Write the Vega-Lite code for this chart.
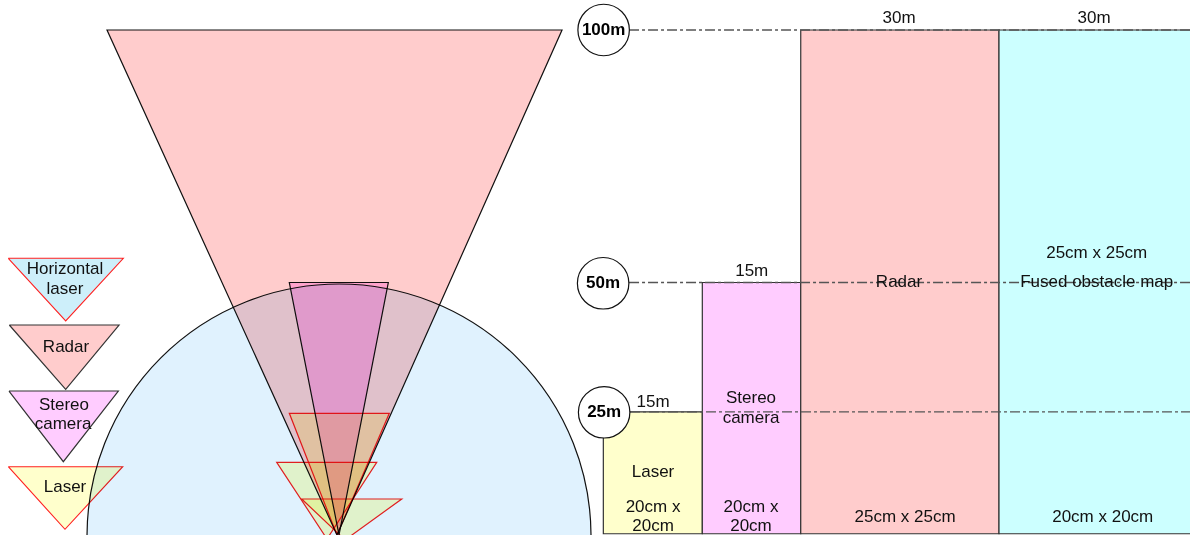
{
  "$schema": "https://vega.github.io/schema/vega-lite/v6.json",
  "width": 1190,
  "height": 535,
  "autosize": {"type": "none"},
  "padding": 0,
  "background": "white",
  "config": {"view": {"stroke": null}},
  "datasets": {
    "hlaser": [{"sensor": "Horizontal laser", "x": 0, "y": -0.2, "range": 49.9, "from": -90, "to": 90}],
    "radarfov": [
      {"i": 0, "x": -0.4, "y": 0}, {"i": 1, "x": -45.94, "y": 100}, {"i": 2, "x": 44.16, "y": 100}, {"i": 3, "x": -0.4, "y": 0}
    ],
    "stereofov": [
      {"i": 0, "x": 0, "y": 0}, {"i": 1, "x": -9.84, "y": 50}, {"i": 2, "x": 9.76, "y": 50}, {"i": 3, "x": 0, "y": 0}
    ],
    "laserfov": [
      {"beam": "A", "i": 0, "x": -0.4, "y": 0}, {"beam": "A", "i": 1, "x": -9.84, "y": 24.1}, {"beam": "A", "i": 2, "x": 9.96, "y": 24.1}, {"beam": "A", "i": 3, "x": -0.4, "y": 0},
      {"beam": "B", "i": 0, "x": -2.38, "y": -0.79}, {"beam": "B", "i": 1, "x": -12.34, "y": 14.4}, {"beam": "B", "i": 2, "x": 7.47, "y": 14.4}, {"beam": "B", "i": 3, "x": -2.38, "y": -0.79},
      {"beam": "C", "i": 0, "x": 1.19, "y": -0.99}, {"beam": "C", "i": 1, "x": -7.39, "y": 7.13}, {"beam": "C", "i": 2, "x": 12.42, "y": 7.13}, {"beam": "C", "i": 3, "x": 1.19, "y": -0.99}
    ],
    "legendtri": [
      {"sensor": "Horizontal laser", "i": 0, "x": -65.49, "y": 54.79}, {"sensor": "Horizontal laser", "i": 1, "x": -42.71, "y": 54.79}, {"sensor": "Horizontal laser", "i": 2, "x": -54.12, "y": 42.38}, {"sensor": "Horizontal laser", "i": 3, "x": -65.49, "y": 54.79},
      {"sensor": "Radar", "i": 0, "x": -65.29, "y": 41.58}, {"sensor": "Radar", "i": 1, "x": -43.56, "y": 41.58}, {"sensor": "Radar", "i": 2, "x": -54.12, "y": 28.85}, {"sensor": "Radar", "i": 3, "x": -65.29, "y": 41.58},
      {"sensor": "Stereo camera", "i": 0, "x": -65.35, "y": 28.51}, {"sensor": "Stereo camera", "i": 1, "x": -43.7, "y": 28.51}, {"sensor": "Stereo camera", "i": 2, "x": -54.59, "y": 14.51}, {"sensor": "Stereo camera", "i": 3, "x": -65.35, "y": 28.51},
      {"sensor": "Laser", "i": 0, "x": -65.49, "y": 13.52}, {"sensor": "Laser", "i": 1, "x": -42.83, "y": 13.52}, {"sensor": "Laser", "i": 2, "x": -54.26, "y": 1.13}, {"sensor": "Laser", "i": 3, "x": -65.49, "y": 13.52}
    ],
    "bars": [
      {"sensor": "Laser", "x": 52.34, "x2": 71.94, "y": 0.25, "y2": 24.4},
      {"sensor": "Stereo camera", "x": 71.94, "x2": 91.43, "y": 0.25, "y2": 50},
      {"sensor": "Radar", "x": 91.43, "x2": 130.69, "y": 0.25, "y2": 100},
      {"sensor": "Fused obstacle map", "x": 130.69, "x2": 170.5, "y": 0.25, "y2": 100}
    ],
    "rules": [
      {"x": 57.43, "x2": 170.5, "y": 100},
      {"x": 57.43, "x2": 170.5, "y": 50},
      {"x": 57.62, "x2": 170.5, "y": 24.4}
    ],
    "rings": [
      {"label": "100m", "x": 52.4, "y": 100},
      {"label": "50m", "x": 52.3, "y": 49.85},
      {"label": "25m", "x": 52.5, "y": 24.3}
    ],
    "labels": [
      {"text": "Horizontal", "x": -54.26, "y": 52.67},
      {"text": "laser", "x": -54.26, "y": 48.65},
      {"text": "Radar", "x": -54.06, "y": 37.29},
      {"text": "Stereo", "x": -54.46, "y": 25.74},
      {"text": "camera", "x": -54.65, "y": 21.98},
      {"text": "Laser", "x": -54.26, "y": 9.45},
      {"text": "15m", "x": 62.18, "y": 26.4},
      {"text": "15m", "x": 81.72, "y": 52.34},
      {"text": "30m", "x": 110.89, "y": 102.38},
      {"text": "30m", "x": 149.5, "y": 102.38},
      {"text": "Laser", "x": 62.18, "y": 12.48},
      {"text": "20cm x", "x": 62.18, "y": 5.6},
      {"text": "20cm", "x": 62.18, "y": 1.78},
      {"text": "Stereo", "x": 81.58, "y": 27.19},
      {"text": "camera", "x": 81.58, "y": 23.11},
      {"text": "20cm x", "x": 81.58, "y": 5.54},
      {"text": "20cm", "x": 81.58, "y": 1.78},
      {"text": "Radar", "x": 110.89, "y": 50.1},
      {"text": "25cm x 25cm", "x": 112.08, "y": 3.5},
      {"text": "25cm x 25cm", "x": 150.04, "y": 55.9},
      {"text": "Fused obstacle map", "x": 150.04, "y": 50.1},
      {"text": "20cm x 20cm", "x": 151.23, "y": 3.56}
    ]
  },
  "encoding": {
    "x": {"field": "x", "type": "quantitative", "scale": {"domain": [-67.13, 168.51], "nice": false, "zero": false}, "axis": null},
    "y": {"field": "y", "type": "quantitative", "scale": {"domain": [0, 105.94], "nice": false, "zero": false}, "axis": null}
  },
  "layer": [
    {
      "data": {"name": "hlaser"},
      "mark": {"type": "arc", "fill": "#e0f2fe", "stroke": "#111111", "strokeWidth": 1.2},
      "encoding": {
        "radius": {"field": "range", "type": "quantitative", "scale": {"type": "linear", "domain": [0, 100], "range": [0, 505], "zero": true}},
        "theta": {"field": "from", "type": "quantitative", "scale": {"domain": [-180, 180], "range": [-3.14159265, 3.14159265]}},
        "theta2": {"field": "to"}
      }
    },
    {
      "data": {"name": "radarfov"},
      "mark": {"type": "line", "fill": "#ffcccc", "stroke": "#111111", "strokeWidth": 1.2, "blend": "multiply"},
      "encoding": {"order": {"field": "i", "type": "quantitative"}}
    },
    {
      "data": {"name": "stereofov"},
      "mark": {"type": "line", "fill": "#ffccff", "stroke": "#111111", "strokeWidth": 1.2, "blend": "multiply"},
      "encoding": {"order": {"field": "i", "type": "quantitative"}}
    },
    {
      "data": {"name": "laserfov"},
      "mark": {"type": "line", "fill": "#ffffcc", "stroke": "#ff2020", "strokeWidth": 1.2, "blend": "multiply"},
      "encoding": {"order": {"field": "i", "type": "quantitative"}, "detail": {"field": "beam"}}
    },
    {
      "data": {"name": "legendtri"},
      "transform": [{"filter": "datum.sensor === 'Horizontal laser'"}],
      "mark": {"type": "line", "fill": "#cdeffa", "stroke": "#ff2020", "strokeWidth": 1.1, "blend": "multiply"},
      "encoding": {"order": {"field": "i", "type": "quantitative"}}
    },
    {
      "data": {"name": "legendtri"},
      "transform": [{"filter": "datum.sensor === 'Radar'"}],
      "mark": {"type": "line", "fill": "#ffcccc", "stroke": "#333333", "strokeWidth": 1.2, "blend": "multiply"},
      "encoding": {"order": {"field": "i", "type": "quantitative"}}
    },
    {
      "data": {"name": "legendtri"},
      "transform": [{"filter": "datum.sensor === 'Stereo camera'"}],
      "mark": {"type": "line", "fill": "#ffccff", "stroke": "#333333", "strokeWidth": 1.2, "blend": "multiply"},
      "encoding": {"order": {"field": "i", "type": "quantitative"}}
    },
    {
      "data": {"name": "legendtri"},
      "transform": [{"filter": "datum.sensor === 'Laser'"}],
      "mark": {"type": "line", "fill": "#ffffcc", "stroke": "#ff2020", "strokeWidth": 1.1, "blend": "multiply"},
      "encoding": {"order": {"field": "i", "type": "quantitative"}}
    },
    {
      "data": {"name": "bars"},
      "mark": {"type": "rect", "stroke": "#333333", "strokeWidth": 1.2},
      "encoding": {
        "x2": {"field": "x2"},
        "y2": {"field": "y2"},
        "fill": {"field": "sensor", "type": "nominal", "legend": null,
          "scale": {"domain": ["Laser", "Stereo camera", "Radar", "Fused obstacle map"], "range": ["#ffffcc", "#ffccff", "#ffcccc", "#ccffff"]}}
      }
    },
    {
      "data": {"name": "rules"},
      "mark": {"type": "rule", "stroke": "#555555", "strokeWidth": 1.3, "strokeDash": [10, 3, 3, 3]},
      "encoding": {"x2": {"field": "x2"}}
    },
    {
      "data": {"name": "rings"},
      "mark": {"type": "point", "shape": "circle", "filled": true, "fill": "white", "stroke": "#111111", "strokeWidth": 1.2, "size": 2650, "opacity": 1}
    },
    {
      "data": {"name": "rings"},
      "mark": {"type": "text", "font": "Liberation Sans", "fontSize": 17, "fontWeight": "bold", "fill": "#000000", "baseline": "middle", "align": "center"},
      "encoding": {"text": {"field": "label"}}
    },
    {
      "data": {"name": "labels"},
      "mark": {"type": "text", "font": "Liberation Sans", "fontSize": 17, "fill": "#111111", "baseline": "middle", "align": "center"},
      "encoding": {"text": {"field": "text"}}
    }
  ]
}
